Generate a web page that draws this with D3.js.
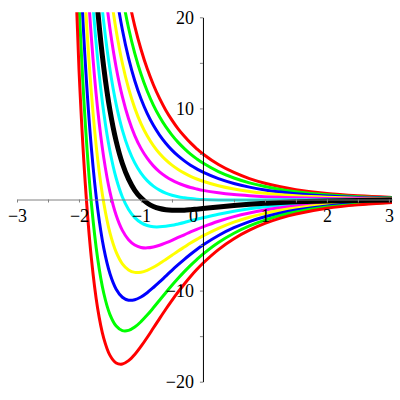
<!DOCTYPE html>
<html>
<head>
<meta charset="utf-8">
<script src="https://cdn.jsdelivr.net/npm/d3@7"></script>
<style>
  body { margin: 0; background: #fff; }
  svg { display: block; }
  .tick text { font-family: "Liberation Serif", "Times New Roman", serif; font-size: 18px; }
</style>
</head>
<body>
<div id="chart"></div>
<script>
// x positions shared by every curve
const xs = [-2.2, -2.1, -2.0, -1.9, -1.8, -1.7, -1.6, -1.5, -1.4, -1.3, -1.2, -1.1,
  -1.0, -0.9, -0.8, -0.7, -0.6, -0.5, -0.4, -0.3, -0.2, -0.1, 0,
  0.25, 0.5, 0.75, 1, 1.25, 1.5, 2, 2.5, 3, 3.05];

// one array per curve, named by its value at x = 0 (null = off the top)
const curveP5 = [null, null, null, null, null, null, 44.2, 36.67, 30.72, 25.97, 22.15, 19.04,
  16.49, 14.37, 12.60, 11.10, 9.81, 8.72, 7.76, 6.94, 6.21, 5.57, 5.00,
  3.84, 2.97, 2.30, 1.79, 1.39, 1.08, 0.65, 0.40, 0.24, 0.23];
const curveP4 = [null, null, null, null, null, 48.3, 39.24, 32.19, 26.66, 22.30, 18.83, 16.04,
  13.77, 11.91, 10.37, 9.08, 7.99, 7.07, 6.27, 5.59, 4.98, 4.46, 4.00,
  3.06, 2.36, 1.83, 1.42, 1.10, 0.86, 0.52, 0.31, 0.19, 0.18];
const curveP3 = [null, null, null, null, null, 42.84, 34.29, 27.71, 22.61, 18.63, 15.51, 13.03,
  11.05, 9.45, 8.14, 7.07, 6.17, 5.42, 4.78, 4.24, 3.76, 3.36, 3.00,
  2.29, 1.76, 1.36, 1.05, 0.82, 0.63, 0.38, 0.23, 0.14, 0.13];
const curveP2 = [null, null, null, null, 47.99, 37.37, 29.34, 23.22, 18.55, 14.96, 12.19, 10.03,
  8.33, 6.99, 5.92, 5.05, 4.35, 3.77, 3.29, 2.89, 2.54, 2.25, 2.00,
  1.51, 1.15, 0.88, 0.68, 0.53, 0.41, 0.25, 0.15, 0.09, 0.09];
const curveP1 = [null, null, null, null, 41.94, 31.89, 24.38, 18.74, 14.50, 11.29, 8.87, 7.02,
  5.61, 4.53, 3.69, 3.04, 2.53, 2.12, 1.80, 1.54, 1.32, 1.15, 1.00,
  0.73, 0.54, 0.41, 0.31, 0.24, 0.19, 0.11, 0.07, 0.04, 0.04];
const curveZ0 = [null, null, null, 48.70, 35.89, 26.42, 19.43, 14.26, 10.44, 7.62, 5.55, 4.02,
  2.90, 2.07, 1.47, 1.03, 0.70, 0.47, 0.30, 0.19, 0.10, 0.04, 0,
  -0.05, -0.06, -0.06, -0.05, -0.04, -0.04, -0.02, -0.01, -0.01, -0.01];
const curveM1 = [null, null, null, 42.01, 29.84, 20.95, 14.48, 9.78, 6.39, 3.95, 2.23, 1.01,
  0.18, -0.39, -0.76, -0.99, -1.12, -1.18, -1.19, -1.17, -1.12, -1.06, -1.00,
  -0.83, -0.67, -0.53, -0.42, -0.33, -0.26, -0.16, -0.10, -0.06, -0.06];
const curveM2 = [null, null, 51.23, 35.33, 23.79, 15.47, 9.52, 5.30, 2.33, 0.28, -1.09, -1.99,
  -2.54, -2.85, -2.99, -3.00, -2.94, -2.83, -2.68, -2.52, -2.34, -2.17, -2.00,
  -1.61, -1.28, -1.01, -0.79, -0.62, -0.48, -0.29, -0.18, -0.11, -0.10];
const curveM3 = [null, null, 43.84, 28.64, 17.74, 10.00, 4.57, 0.81, -1.73, -3.39, -4.41, -4.99,
  -5.26, -5.31, -5.21, -5.02, -4.76, -4.48, -4.17, -3.87, -3.56, -3.27, -3.00,
  -2.39, -1.88, -1.48, -1.16, -0.90, -0.70, -0.43, -0.26, -0.16, -0.15];
const curveM4 = [null, 56.75, 36.45, 21.96, 11.69, 4.52, -0.38, -3.67, -5.78, -7.06, -7.73, -8.00,
  -7.98, -7.77, -7.44, -7.03, -6.58, -6.12, -5.66, -5.22, -4.78, -4.38, -4.00,
  -3.17, -2.49, -1.95, -1.52, -1.19, -0.93, -0.56, -0.34, -0.21, -0.20];
const curveM5 = [null, 48.58, 29.06, 15.27, 5.64, -0.95, -5.34, -8.15, -9.84, -10.73, -11.05, -11.00,
  -10.70, -10.23, -9.66, -9.05, -8.41, -7.77, -7.16, -6.57, -6.01, -5.48, -5.00,
  -3.95, -3.10, -2.42, -1.89, -1.48, -1.15, -0.70, -0.42, -0.26, -0.25];
const curveM6 = [66.85, 40.41, 21.68, 8.58, -0.41, -6.42, -10.29, -12.63, -13.89, -14.39, -14.37, -14.00,
  -13.41, -12.69, -11.89, -11.06, -10.23, -9.42, -8.65, -7.92, -7.23, -6.59, -6.00,
  -4.72, -3.70, -2.90, -2.26, -1.76, -1.37, -0.83, -0.51, -0.31, -0.29];
const curveM7 = [57.82, 32.25, 14.29, 1.90, -6.46, -11.90, -15.24, -17.11, -17.95, -18.06, -17.69, -17.01,
  -16.13, -15.15, -14.11, -13.07, -12.05, -11.07, -10.14, -9.27, -8.45, -7.69, -7.00,
  -5.50, -4.31, -3.37, -2.63, -2.05, -1.60, -0.97, -0.59, -0.36, -0.34];

// tick values
const xTicks = d3.range(-3, 3.01, 0.5);
const xLabels = [-3, -2, -1, 0, 1, 2, 3];
const yTicks = d3.range(-20, 20.01, 5);
const yLabels = [-20, -10, 10, 20];

const width = 400, height = 400;

const svg = d3.select("#chart").append("svg")
  .attr("width", width)
  .attr("height", height);

const x = d3.scaleLinear().domain([-3, 3.05]).range([17, 392]);
const y = d3.scaleLinear().domain([-20, 20]).range([381.7, 17.3]);

const fmt = v => (v < 0 ? "\u2212" : "") + Math.abs(v);

// clip the curves to the viewing window
svg.append("clipPath").attr("id", "clip")
  .append("rect")
  .attr("x", x(-3))
  .attr("y", y(20) - 5)
  .attr("width", x(3.05) - x(-3))
  .attr("height", y(-20) - y(20) + 5);

// curves
const series = [curveP5, curveP4, curveP3, curveP2, curveP1, curveZ0,
  curveM2, curveM3, curveM4, curveM5, curveM6, curveM7, curveM1];
const colors = ["#ff0000", "#00ff00", "#0000ff", "#ffff00", "#ff00ff", "#00ffff",
  "#00ffff", "#ff00ff", "#ffff00", "#0000ff", "#00ff00", "#ff0000", "#000000"];

const line = d3.line()
  .defined(d => d[1] != null)
  .x(d => x(d[0]))
  .y(d => y(d[1]))
  .curve(d3.curveCatmullRom.alpha(0.5));

const plot = svg.append("g").attr("clip-path", "url(#clip)");

plot.selectAll(".curve")
  .data(series)
  .enter()
  .append("path")
  .attr("class", "curve")
  .attr("fill", "none")
  .attr("stroke", (d, i) => colors[i])
  .attr("stroke-width", (d, i) => colors[i] === "#000000" ? 5 : 3)
  .attr("d", d => line(xs.map((v, i) => [v, d[i]])));

// axes drawn over the curves
const xAxis = svg.append("g")
  .attr("transform", `translate(0,${y(0)})`)
  .call(d3.axisBottom(x)
    .tickValues(xTicks)
    .tickSizeInner(3)
    .tickSizeOuter(0)
    .tickPadding(7)
    .tickFormat(d => xLabels.includes(d) ? fmt(d) : ""));

const yAxis = svg.append("g")
  .attr("transform", `translate(${x(0)},0)`)
  .call(d3.axisLeft(y)
    .tickValues(yTicks)
    .tickSizeInner(3)
    .tickSizeOuter(0)
    .tickPadding(6)
    .tickFormat(d => yLabels.includes(d) ? fmt(d) : ""));

[xAxis, yAxis].forEach(g => {
  g.attr("font-family", null).attr("font-size", null);
  g.selectAll("text").attr("fill", "#000");
  g.selectAll(".tick line").attr("stroke", "#808080");
});
xAxis.select(".domain").attr("stroke", "#808080");
yAxis.select(".domain").attr("stroke", "#000");

// the 0 label sits left of the vertical axis
xAxis.selectAll(".tick text").filter(d => d === 0).attr("dx", -10);
</script>
</body>
</html>
